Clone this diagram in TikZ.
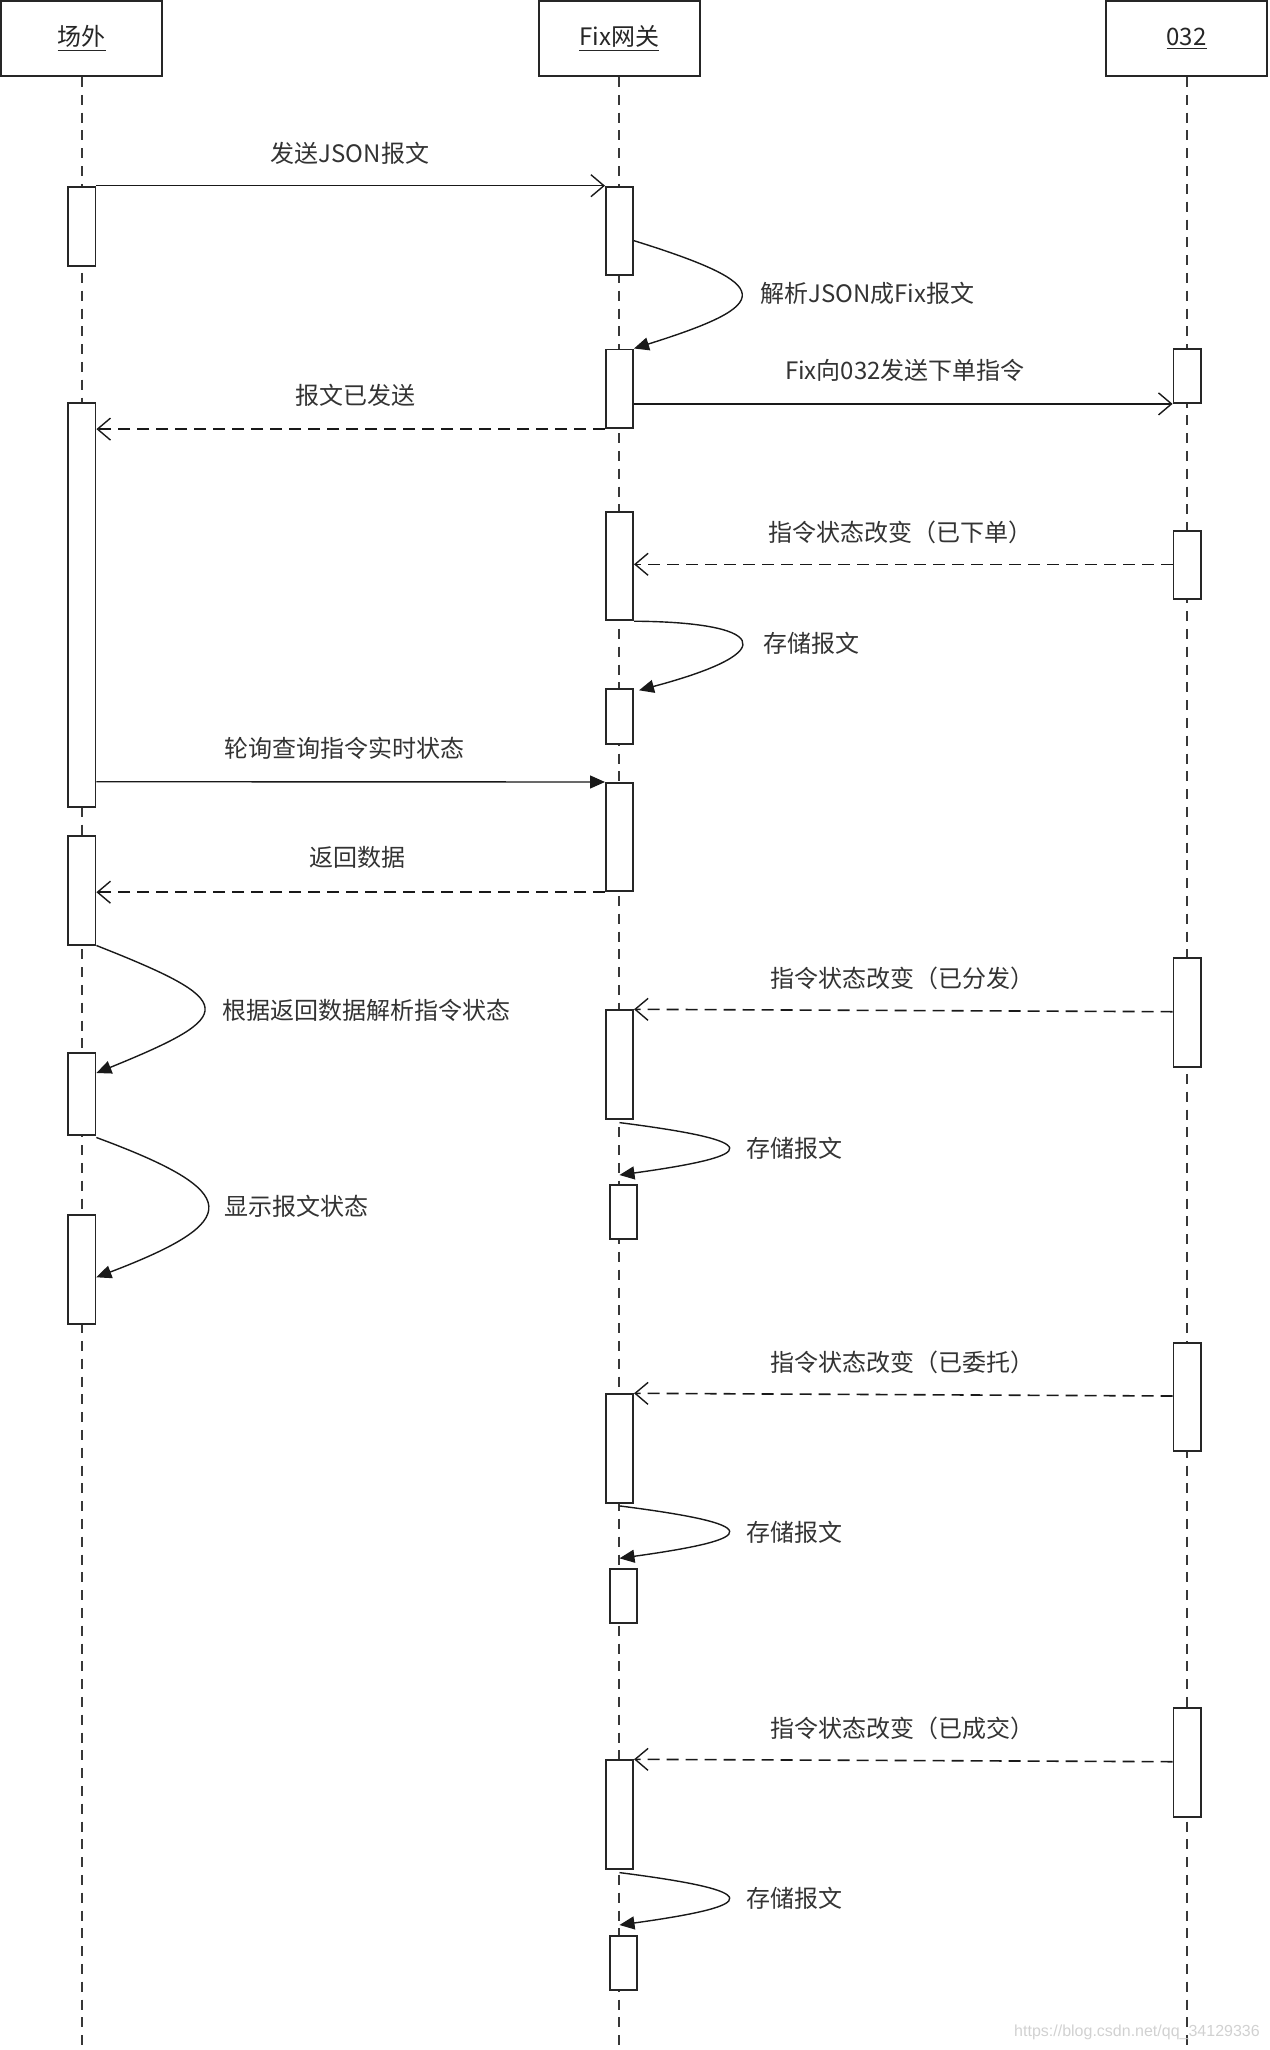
\documentclass[tikz,border=0pt]{standalone}
\usepackage{fontspec}
\setmainfont{Noto Sans CJK SC}
\newfontfamily\markfont{Liberation Sans}
\usetikzlibrary{arrows.meta,calc}

\begin{document}
\begin{tikzpicture}[x=0.5pt,y=-0.5pt,
  headbox/.style={draw=black!85,line width=1.1pt,fill=white,minimum width=80.5pt,minimum height=37.5pt,inner sep=0pt,font=\fontsize{12pt}{14pt}\selectfont,text=black!85},
  lifeline/.style={draw=black!78,line width=1pt,dash pattern=on 5pt off 3.9pt},
  actbox/.style={draw=black!85,line width=0.9pt,fill=white,minimum width=13.6pt,inner sep=0pt,anchor=north},
  msg/.style={draw=black!90,line width=0.7pt,-{Straight Barb[length=6.5pt,width=11pt,line width=0.7pt]}},
  call/.style={draw=black!90,line width=0.7pt,-{Triangle[length=7.5pt,width=6.5pt]}},
  reply/.style={draw=black!90,line width=0.8pt,dash pattern=on 6pt off 3.5pt,-{Straight Barb[length=6.5pt,width=11pt,line width=0.7pt]}},
  selfmsg/.style={draw=black!90,line width=0.7pt,-{Triangle[length=7.5pt,width=6.5pt]}},
  lbl/.style={inner sep=0pt,font=\fontsize{12pt}{14pt}\selectfont,text=black!80}
]
\useasboundingbox (0,0) rectangle (1269,2050);
\coordinate (bottom) at (0,2050);

% participants
\node[headbox] (hA) at (81.5,38.5) {\underline{场外}};
\node[headbox] (hB) at (619.3,38.5) {\underline{Fix网关}};
\node[headbox] (hC) at (1186.6,38.5) {\underline{032}};

% lifelines
\draw[lifeline] (hA.south) -- (hA.south |- bottom);
\draw[lifeline] (hB.south) -- (hB.south |- bottom);
\draw[lifeline] (hC.south) -- (hC.south |- bottom);

% activations of 场外
\node[actbox,minimum height=39.8pt]  (a1) at (81.9,185.7) {};
\node[actbox,minimum height=202.2pt] (a2) at (81.9,401.7) {};
\node[actbox,minimum height=54.2pt]  (a3) at (81.9,835.3) {};
\node[actbox,minimum height=40.7pt]  (a4) at (81.9,1052.3) {};
\node[actbox,minimum height=54.5pt]  (a5) at (81.9,1214.3) {};

% activations of Fix网关
\node[actbox,minimum height=44.2pt]  (b1) at (619.5,185.7) {};
\node[actbox,minimum height=39.4pt]  (b2) at (619.5,348.5) {};
\node[actbox,minimum height=54.2pt]  (b3) at (619.5,511) {};
\node[actbox,minimum height=27.5pt]  (b4) at (619.5,688.3) {};
\node[actbox,minimum height=54.2pt]  (b5) at (619.5,782) {};
\node[actbox,minimum height=54.4pt]  (b6) at (619.5,1009.3) {};
\node[actbox,minimum height=27.2pt]  (b7) at (623.5,1183.7) {};
\node[actbox,minimum height=54.4pt]  (b8) at (619.5,1393.3) {};
\node[actbox,minimum height=27.2pt]  (b9) at (623.5,1568) {};
\node[actbox,minimum height=54.4pt]  (b10) at (619.5,1759.3) {};
\node[actbox,minimum height=27.2pt]  (b11) at (623.5,1935) {};

% activations of 032
\node[actbox,minimum height=27.2pt]  (c1) at (1187.1,347.7) {};
\node[actbox,minimum height=34.2pt]  (c2) at (1187.1,530) {};
\node[actbox,minimum height=54.4pt]  (c3) at (1187.1,957.3) {};
\node[actbox,minimum height=54.2pt]  (c4) at (1187.1,1341.7) {};
\node[actbox,minimum height=54.4pt]  (c5) at (1187.1,1707.3) {};

% free ends of the self messages
\coordinate (t1) at (619.5,1175);
\coordinate (t2) at (619.5,1558.3);
\coordinate (t3) at (619.5,1925);

% messages
\draw[msg] (a1.north east) -- (b1.north west);
\draw[selfmsg] ($(b1.north east)+(0,55)$) .. controls (776,285) and (776,304) .. (b2.north east);
\draw[msg] (b2.south east |- c1.south) -- (c1.south west);
\draw[reply] (b2.south west) -- (b2.south west -| a2.east);
\draw[reply] ($(c2.north west)+(0,34.3)$) -- ($(b3.north east)+(0,53.3)$);
\draw[selfmsg] (b3.south east) .. controls (760,622) and (790,650) .. ($(b4.north east)+(5,2)$);
\draw[call] ($(a2.north east)+(0,380)$) -- (b5.north west);
\draw[reply] (b5.south west) -- (b5.south west -| a3.east);
\draw[selfmsg] (a3.south east) .. controls (239,1001.7) and (239,1015) .. ($(a4.north east)+(0,20.7)$);
\draw[selfmsg] ($(a4.south east)+(0,2)$) .. controls (244,1192) and (244,1221) .. ($(a5.north east)+(0,63)$);
\draw[reply] ($(c3.north west)+(0,54.4)$) -- (b6.north east);
\draw[selfmsg] ($(b6.south)+(0,2.7)$) .. controls (764,1141) and (764,1155) .. (t1);
\draw[reply] ($(c4.north west)+(0,54.3)$) -- (b8.north east);
\draw[selfmsg] ($(b8.south)+(0,2)$) .. controls (764,1524.3) and (764,1538.3) .. (t2);
\draw[reply] ($(c5.north west)+(0,54.4)$) -- (b10.north east);
\draw[selfmsg] ($(b10.south)+(0,2.7)$) .. controls (764,1891) and (764,1905) .. (t3);

% message labels
\node[lbl] (l1) at (350,153) {发送JSON报文};
\node[lbl,anchor=west] (l2) at (760,293) {解析JSON成Fix报文};
\node[lbl] (l3) at (905,370) {Fix向032发送下单指令};
\node[lbl] (l4) at (355,395) {报文已发送};
\node[lbl] (l5) at (900,532) {指令状态改变（已下单）};
\node[lbl,anchor=west] (l6) at (763,643) {存储报文};
\node[lbl] (l7) at (344,748) {轮询查询指令实时状态};
\node[lbl] (l8) at (357,857) {返回数据};
\node[lbl,anchor=west] (l9) at (222,1010) {根据返回数据解析指令状态};
\node[lbl] (l10) at (902,978) {指令状态改变（已分发）};
\node[lbl,anchor=west] (l11) at (746,1148) {存储报文};
\node[lbl,anchor=west] (l12) at (224,1206) {显示报文状态};
\node[lbl] (l13) at (902,1362) {指令状态改变（已委托）};
\node[lbl,anchor=west] (l14) at (746,1532) {存储报文};
\node[lbl] (l15) at (902,1728) {指令状态改变（已成交）};
\node[lbl,anchor=west] (l16) at (746,1898) {存储报文};

% site mark
\node[inner sep=0pt,text=black!18,font=\markfont\fontsize{8pt}{9pt}\selectfont] (mark) at (1137,2032) {https://blog.csdn.net/qq\_34129336};
\end{tikzpicture}
\end{document}
